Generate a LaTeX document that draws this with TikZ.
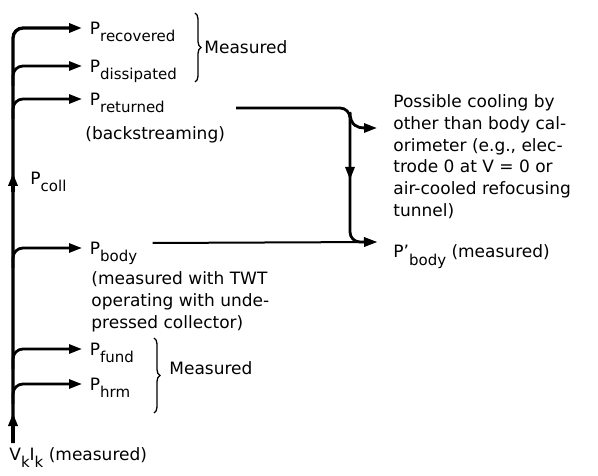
\documentclass[tikz,border=0pt]{standalone}
\usepackage{fontspec}
\setmainfont{DejaVu Sans}
\usetikzlibrary{arrows.meta, positioning, decorations.pathreplacing}
\newcommand\psub[1]{\smash{\raisebox{-0.42em}{\fontsize{15}{15}\selectfont #1}}}
\tikzset{
  every picture/.style={line width=2.8pt},
  lbl/.style={inner sep=0pt, anchor=west, font=\fontsize{17}{22}\selectfont},
  note/.style={inner sep=0pt, align=left, font=\fontsize{17}{22}\selectfont},
  flow/.style={-{Triangle[length=13pt,width=9pt]}, line width=2.8pt, rounded corners=10pt, shorten >=6.5pt},
  tip/.style={-{Triangle[length=13pt,width=9pt]}},
  brc/.style={decorate, decoration={brace, amplitude=6pt}, line width=1.3pt},
}

\begin{document}
\begin{tikzpicture}[x=1pt, y=-1pt]
  \useasboundingbox (0,0) rectangle (598,476);
  % quantities on the left
  \node[lbl] (rec) at (88.5,28) {P\psub{recovered}};
  \node[lbl] (dis) at (88.5,66) {P\psub{dissipated}};
  \node[lbl] (ret) at (88.5,99) {P\psub{returned}};
  \node[note, anchor=base west] (back) at (84,140) {(backstreaming)};
  \node[lbl] (coll) at (29,178) {P\psub{coll}};
  \node[lbl] (body) at (88.5,248) {P\psub{body}};
  % base of a multi-line note is its last line
  \node[note, anchor=base west] (bodynote) at (90,328) {(measured with TWT\\operating with unde-\\pressed collector)};
  \node[lbl] (fund) at (88.5,349) {P\psub{fund}};
  \node[lbl] (hrm) at (88.5,384) {P\psub{hrm}};
  \node[lbl, anchor=base west] (vk) at (8,460) {V\psub{k}I\psub{k} (measured)};
  \node[lbl] (meas1) at (203,47) {Measured};
  \node[lbl] (meas2) at (168,368) {Measured};
  \draw[brc] (195,13) -- (195,82);
  \draw[brc] (154,338) -- (154,413);
  % trunk and branches
  \coordinate (foot) at (13,443);
  \draw[flow, line width=3.3pt] (foot) |- (rec.west);
  \foreach \n in {dis, ret, body, fund, hrm}
    \draw[flow] (foot |- \n.west) ++(0,20) |- (\n.west);
  \draw[tip, line width=3.3pt] (foot) -- ++(0,-30);
  \draw[tip, line width=3.3pt] (13,192) -- (13,173);
  % right side
  \coordinate (knee) at (350,108);
  \coordinate (coolin) at (377,128);
  \coordinate (bodyin) at (377,242);
  \node[note, anchor=base west] (cool) at (392,217) {Possible cooling by\\other than body cal-\\orimeter (e.g., elec-\\trode 0 at V = 0 or\\air-cooled refocusing\\tunnel)};
  \node[lbl, anchor=base west] (bodyp) at (392,258) {P'\psub{body} (measured)};
  \draw[flow, shorten >=0pt] (ret.east) ++(70,9) -- (knee) |- (bodyin);
  \draw[flow, shorten >=0pt, rounded corners=0pt] (350,112) .. controls (350,126) and (358,128) .. (coolin);
  \draw[tip] (knee) ++(0,56) -- ++(0,16);
  \draw[flow, line width=2pt, shorten >=0pt] (body.east) ++(14,-5) -- (bodyin);
\end{tikzpicture}
\end{document}
